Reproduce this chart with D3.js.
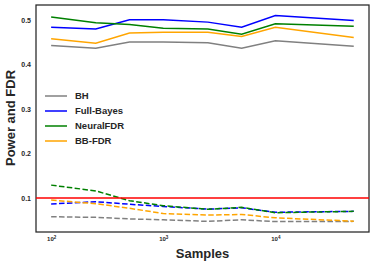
<!DOCTYPE html>
<html><head><meta charset="utf-8">
<script src="https://cdn.jsdelivr.net/npm/d3@7"></script>
<style>body{margin:0;background:#fff}svg{display:block}text{font-family:"Liberation Sans",Arial,sans-serif}</style>
</head><body><svg id="c" width="374" height="266"></svg>
<script>
const samples = [100, 250, 500, 1000, 2500, 5000, 10000, 50000];
const methods = ["BH", "Full-Bayes", "NeuralFDR", "BB-FDR"];
const colors = ["#808080", "#0000ff", "#008000", "#ffa500"];
const powerBH = [0.443, 0.437, 0.451, 0.451, 0.449, 0.437, 0.4535, 0.441];
const powerFB = [0.484, 0.480, 0.501, 0.501, 0.4955, 0.484, 0.5105, 0.499];
const powerNF = [0.507, 0.494, 0.490, 0.482, 0.480, 0.4685, 0.492, 0.486];
const powerBB = [0.458, 0.448, 0.471, 0.473, 0.4725, 0.463, 0.484, 0.461];
const fdrBH = [0.058, 0.0565, 0.053, 0.051, 0.0475, 0.051, 0.047, 0.0475];
const fdrFB = [0.0865, 0.0917, 0.086, 0.081, 0.075, 0.078, 0.068, 0.070];
const fdrNF = [0.129, 0.116, 0.094, 0.0827, 0.0746, 0.079, 0.067, 0.070];
const fdrBB = [0.0955, 0.0872, 0.077, 0.065, 0.0618, 0.063, 0.0555, 0.048];
const fdrTarget = 0.1;
const yTicks = [0.1, 0.2, 0.3, 0.4, 0.5];
const xTicks = [100, 1000, 10000];

const power = [powerBH, powerFB, powerNF, powerBB];
const fdr = [fdrBH, fdrFB, fdrNF, fdrBB];

const svg = d3.select("#c");
const L = 36, R = 369, T = 5, B = 232;
const x = d3.scaleLog().domain([Math.pow(10, 1.865), Math.pow(10, 4.835)]).range([L, R]);
const y = d3.scaleLinear().domain([0.0236, 0.534]).range([B, T]);

const line = d3.line().x((d, i) => x(samples[i])).y(d => y(d));

// frame
svg.append("rect").attr("x", L).attr("y", T).attr("width", R - L).attr("height", B - T)
  .attr("fill", "none").attr("stroke", "#262626").attr("stroke-width", 1.25);

power.forEach((s, k) => {
  svg.append("path").datum(s).attr("d", line).attr("fill", "none")
    .attr("stroke", colors[k]).attr("stroke-width", 1.5);
});
fdr.forEach((s, k) => {
  svg.append("path").datum(s).attr("d", line).attr("fill", "none")
    .attr("stroke", colors[k]).attr("stroke-width", 1.5).attr("stroke-dasharray", "5.5,2.4");
});
svg.append("line").attr("x1", L).attr("x2", R).attr("y1", y(fdrTarget)).attr("y2", y(fdrTarget))
  .attr("stroke", "#ff0000").attr("stroke-width", 1.5);

// y ticks
const ya = d3.axisLeft(y).tickValues(yTicks).tickSize(0).tickPadding(5).tickFormat(d3.format(".1f"));
const gy = svg.append("g").attr("transform", `translate(${L},0)`).call(ya);
gy.select(".domain").remove();
gy.selectAll("text").attr("font-size", 7).attr("font-weight", "bold").attr("fill", "#262626")
  .attr("font-family", "Liberation Sans, Arial, sans-serif");

// x ticks
const xa = d3.axisBottom(x).tickValues(xTicks).tickSize(0).tickPadding(5).tickFormat(() => "");
const gx = svg.append("g").attr("transform", `translate(0,${B})`).call(xa);
gx.select(".domain").remove();
gx.selectAll(".tick").each(function(d) {
  const t = d3.select(this).select("text").attr("fill", "#262626").attr("font-size", 6)
    .attr("font-weight", "bold").attr("font-family", "Liberation Sans, Arial, sans-serif")
    .attr("text-anchor", "middle");
  t.text(null);
  t.append("tspan").text("10");
  t.append("tspan").attr("dy", -2.5).attr("font-size", 4.5).text(Math.round(Math.log10(d)));
});

// axis labels
svg.append("text").attr("x", (L + R) / 2).attr("y", 258).attr("text-anchor", "middle")
  .attr("font-size", 13).attr("font-weight", "bold").attr("fill", "#262626").text("Samples");
svg.append("text").attr("transform", `translate(14.5,118) rotate(-90)`).attr("text-anchor", "middle")
  .attr("font-size", 13).attr("font-weight", "bold").attr("fill", "#262626").text("Power and FDR");

// legend
const lg = svg.append("g");
methods.forEach((m, k) => {
  const yy = 96 + k * 15;
  lg.append("line").attr("x1", 45).attr("x2", 67).attr("y1", yy).attr("y2", yy)
    .attr("stroke", colors[k]).attr("stroke-width", 1.5);
  lg.append("text").attr("x", 75).attr("y", yy).attr("dy", "0.35em").attr("font-size", 9.5)
    .attr("font-weight", "bold").attr("fill", "#262626").text(m);
});
</script></body></html>
